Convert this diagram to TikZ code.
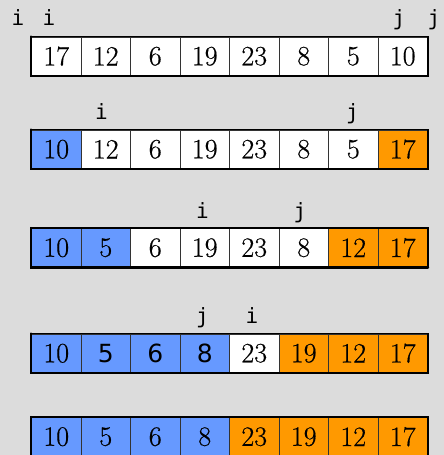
\documentclass[tikz,border=0pt]{standalone}
\usepackage{fontspec}
\newfontfamily\labfont{DejaVu Sans Mono}
\newfontfamily\sansnum{DejaVu Sans}
\newfontfamily\numfont{Latin Modern Roman}[FakeBold=0.5]
\definecolor{bg}{RGB}{220,220,220}
\definecolor{lowc}{RGB}{102,153,255}
\definecolor{highc}{RGB}{255,153,0}
\tikzset{
  cellbox/.style={draw=black!80, line width=1pt, minimum width=49.5pt, minimum height=38.5pt, inner sep=0pt, anchor=north west, font=\numfont\fontsize{28}{28}\selectfont},
  wc/.style={cellbox, fill=white},
  bc/.style={cellbox, fill=lowc},
  oc/.style={cellbox, fill=highc},
  ptr/.style={font=\labfont\fontsize{21}{21}\selectfont, anchor=base, inner sep=0pt},
  frame/.style={draw=black, line width=1.2pt},
  frameheavy/.style={draw=black, line width=2.4pt, line cap=round}
}
\begin{document}
\begin{tikzpicture}[x=1pt,y=-1pt]
\fill[bg] (0,0) rectangle (444,455);
\useasboundingbox (0,0) rectangle (444,455);
% Row 1
\foreach \v [count=\k from 0] in {17,12,6,19,23,8,5,10}
  \node[wc] (ra\k) at ({31+49.5*\k},36.5) {\v};
\draw[frame] (ra0.north west) rectangle (ra7.south east);
\draw[frameheavy] (ra0.north west) -- (ra0.south west) -- (ra7.south east);
\node[ptr] (ia1) at (18,25) {i};
\node[ptr] (ia2) at (49,25) {i};
\node[ptr] (ja1) at (399,25) {j};
\node[ptr] (ja2) at (434,25) {j};
% Row 2
\foreach \v/\s [count=\k from 0] in {10/bc,12/wc,6/wc,19/wc,23/wc,8/wc,5/wc,17/oc}
  \node[\s] (rb\k) at ({31+49.5*\k},129.5) {\v};
\draw[frame] (rb0.north west) rectangle (rb7.south east);
\draw[frameheavy] (rb0.north west) -- (rb0.south west) -- (rb7.south east);
\node[ptr] (ib) at (101.5,119) {i};
\node[ptr] (jb) at (352.5,119) {j};
% Row 3
\foreach \v/\s [count=\k from 0] in {10/bc,5/bc,6/wc,19/wc,23/wc,8/wc,12/oc,17/oc}
  \node[\s] (rc\k) at ({31+49.5*\k},228) {\v};
\draw[frame] (rc0.north west) rectangle (rc7.south east);
\draw[frameheavy] (rc0.north west) -- (rc0.south west) -- (rc7.south east);
\node[ptr] (ic) at (202.5,218) {i};
\node[ptr] (jc) at (300,218) {j};
% Row 4
\foreach \v/\s [count=\k from 0] in {10/bc,{\sansnum\fontsize{25}{25}\selectfont 5}/bc,{\sansnum\fontsize{25}{25}\selectfont 6}/bc,{\sansnum\fontsize{25}{25}\selectfont 8}/bc,23/wc,19/oc,12/oc,17/oc}
  \node[\s] (rd\k) at ({31+49.5*\k},333.5) {\v};
\draw[frame] (rd0.north west) rectangle (rd7.south east);
\draw[frameheavy] (rd0.north west) -- (rd0.south west) -- (rd7.south east);
\node[ptr] (jd) at (202.5,323.5) {j};
\node[ptr] (id) at (252,323.5) {i};
% Row 5
\foreach \v/\s [count=\k from 0] in {10/bc,5/bc,6/bc,8/bc,23/oc,19/oc,12/oc,17/oc}
  \node[\s] (re\k) at ({31+49.5*\k},417) {\v};
\draw[frame] (re0.north west) rectangle (re7.south east);
\draw[frameheavy] (re0.north west) -- (re0.south west) -- (re7.south east);
\end{tikzpicture}
\end{document}
